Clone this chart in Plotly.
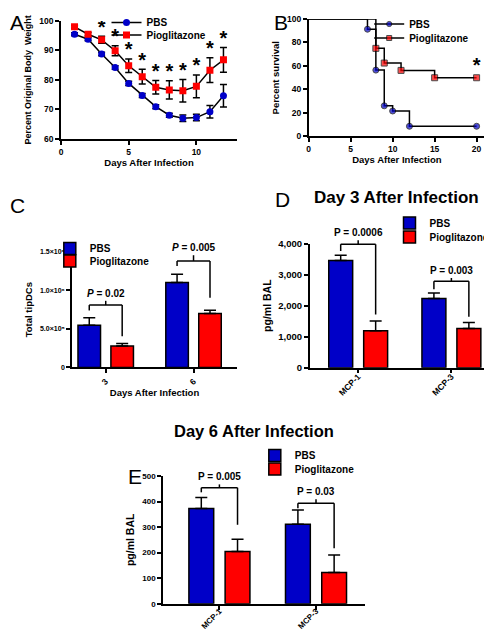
import plotly.graph_objects as go

W, H = 492, 632
FONT = "Liberation Sans, Arial, sans-serif"
BLUE = "#0000C8"
RED = "#FF0000"

# ---------------- Data ----------------
# Panel A: weight loss
a_days = [1, 2, 3, 4, 5, 6, 7, 8, 9, 10, 11, 12]
a_pbs = [95.5, 93.8, 88.8, 84.2, 78.8, 74.7, 70.9, 68.0, 67.0, 67.2, 69.2, 74.6]
a_pbs_err = [0.5, 0.5, 0.6, 0.6, 0.7, 0.7, 0.7, 0.7, 1.1, 1.1, 2.1, 3.8]
a_pio = [98.0, 95.5, 93.6, 89.9, 84.8, 81.1, 77.5, 76.6, 76.3, 77.8, 83.3, 86.8]
a_pio_err = [0.5, 0.6, 1.2, 1.7, 2.3, 2.5, 2.3, 3.1, 3.8, 3.9, 4.2, 4.2]
a_sig_days = [3, 4, 5, 6, 7, 8, 9, 10, 11, 12]

# Panel B: survival
b_pbs_t = [0, 7, 8, 9, 10, 12, 20]
b_pbs_s = [100, 91.3, 56.5, 26.1, 21.7, 8.7, 8.7]
b_pio_t = [0, 8, 9, 11, 15, 20]
b_pio_s = [100, 75, 62.5, 56.25, 50, 50]
b_sig_t = [20]

# Panel C: tipDCs
c_days = ["3", "6"]
c_pbs = [549000, 1102000]
c_pbs_err = [95000, 108000]
c_pio = [277000, 700000]
c_pio_err = [35000, 44000]
c_ptext = ["<i>P</i> = 0.02", "<i>P</i> = 0.005"]
c_br_left = [740000, 1318000]
c_br_line = [810000, 1383000]
c_br_right = [406000, 904000]
c_br_top = [865000, 1457000]
c_ticks = [0, 500000, 1000000, 1500000]
c_ticktext = ["0", "5.0×10⁵", "1.0×10⁶", "1.5×10⁶"]

# Panel D: day 3 cytokines
d_cats = ["MCP-1", "MCP-3"]
d_pbs = [3460, 2235]
d_pbs_err = [165, 175]
d_pio = [1190, 1264]
d_pio_err = [320, 194]
d_ptext = ["P = 0.0006", "P = 0.003"]
d_br_left = [3764, 2529]
d_br_line = [3977, 2786]
d_br_right = [1715, 1641]
d_br_top = [4106, 2896]

# Panel E: day 6 cytokines
e_cats = ["MCP-1", "MCP-3"]
e_pbs = [373, 311]
e_pbs_err = [43, 56]
e_pio = [204, 122]
e_pio_err = [48, 69]
e_ptext = ["P = 0.005", "P = 0.03"]
e_br_left = [436, 374]
e_br_line = [454, 393]
e_br_right = [309, 217]
e_br_top = [467, 409]

groups = ["PBS", "Pioglitazone"]

# ---------------- helpers ----------------
def xd(a, b):
    return [a / W, b / W]

def yd(top, bottom):
    return [1 - bottom / H, 1 - top / H]

def px(p):
    return p / W

def py(p):
    return 1 - p / H

BARGAP = 0.25
BARGROUPGAP = 0.315

# axis domains / ranges
DOM = {
    "x": xd(53, 229), "y": yd(12, 130),
    "x2": xd(300.7, 477), "y2": yd(10, 127.7),
    "x3": xd(64, 229), "y3": yd(243.3, 359),
    "x4": xd(301.7, 490), "y4": yd(235, 359.3),
    "x5": xd(155, 356.7), "y5": yd(467.7, 595.7),
}
YRANGE = {"y3": [0, 1500000], "y4": [0, 4000], "y5": [0, 500]}

def to_paper(ya, v):
    d0, d1 = DOM[ya]
    r0, r1 = YRANGE[ya]
    return d0 + (v - r0) / (r1 - r0) * (d1 - d0)

fig = go.Figure()

# ---- Panel A ----
fig.add_trace(go.Scatter(
    x=a_days, y=a_pbs, name=groups[0], mode="lines+markers",
    line=dict(color="black", width=1.5),
    marker=dict(symbol="circle", size=7, color=BLUE),
    error_y=dict(type="data", array=a_pbs_err, color="black", thickness=1.5, width=3.5),
    xaxis="x", yaxis="y", legend="legend"))
fig.add_trace(go.Scatter(
    x=a_days, y=a_pio, name=groups[1], mode="lines+markers",
    line=dict(color="black", width=1.5),
    marker=dict(symbol="square", size=7, color=RED),
    error_y=dict(type="data", array=a_pio_err, color="black", thickness=1.5, width=3.5),
    xaxis="x", yaxis="y", legend="legend2"))
sig_idx = [a_days.index(d) for d in a_sig_days]
fig.add_trace(go.Scatter(
    x=a_sig_days, y=[a_pio[i] + a_pio_err[i] + 2.6 for i in sig_idx],
    mode="text", text=["*"] * len(a_sig_days), textposition="middle center",
    textfont=dict(family=FONT, size=20, color="black", weight="bold"),
    showlegend=False, hoverinfo="skip", xaxis="x", yaxis="y"))

# ---- Panel B ----
def sizes(n):
    return [0] + [6] * (n - 1)

fig.add_trace(go.Scatter(
    x=b_pbs_t, y=b_pbs_s, name=groups[0], mode="lines+markers",
    line=dict(color="black", width=1.5, shape="hv"),
    marker=dict(symbol="circle", size=sizes(len(b_pbs_t)), color=BLUE),
    xaxis="x2", yaxis="y2", legend="legend3"))
fig.add_trace(go.Scatter(
    x=b_pio_t, y=b_pio_s, name=groups[1], mode="lines+markers",
    line=dict(color="black", width=1.5, shape="hv"),
    marker=dict(symbol="square", size=sizes(len(b_pio_t)), color=RED),
    xaxis="x2", yaxis="y2", legend="legend4"))
fig.add_trace(go.Scatter(
    x=b_sig_t, y=[b_pio_s[b_pio_t.index(t)] + 9 for t in b_sig_t],
    mode="text", text=["*"], textposition="middle center",
    textfont=dict(family=FONT, size=20, color="black", weight="bold"),
    showlegend=False, hoverinfo="skip", xaxis="x2", yaxis="y2"))

# ---- Bar panels ----
def bar_panel(cats, pbs, pbs_err, pio, pio_err, xa, ya, legs):
    for name, vals, errs, col, lg in [(groups[0], pbs, pbs_err, BLUE, legs[0]),
                                      (groups[1], pio, pio_err, RED, legs[1])]:
        fig.add_trace(go.Bar(
            x=cats, y=vals, name=name,
            marker=dict(color=col, line=dict(color="black", width=1.5)),
            error_y=dict(type="data", symmetric=False, array=errs,
                         arrayminus=[0] * len(errs), color="black", thickness=1.5, width=6),
            xaxis=xa, yaxis=ya, legend=lg))

bar_panel(c_days, c_pbs, c_pbs_err, c_pio, c_pio_err, "x3", "y3", ["legend5", "legend6"])
bar_panel(d_cats, d_pbs, d_pbs_err, d_pio, d_pio_err, "x4", "y4", ["legend7", "legend8"])
bar_panel(e_cats, e_pbs, e_pbs_err, e_pio, e_pio_err, "x5", "y5", ["legend9", "legend10"])

shapes = []
annotations = []
off = (1 - BARGAP) / 4

def brackets(n, left, line, right, top, texts, xa, ya, size=10):
    P = lambda v: to_paper(ya, v)
    for i in range(n):
        xl, xr, xc = i - off, i + off, i
        seg = [(xl, left[i], xl, line[i]), (xl, line[i], xr, line[i]),
               (xr, line[i], xr, right[i]), (xc, line[i], xc, top[i])]
        for x0, y0, x1, y1 in seg:
            shapes.append(dict(type="line", xref=xa, yref="paper",
                               x0=x0, y0=P(y0), x1=x1, y1=P(y1),
                               line=dict(color="black", width=1.5)))
        annotations.append(dict(x=xc, y=P(top[i]), xref=xa, yref="paper", text=texts[i],
                                showarrow=False, yanchor="bottom", xanchor="center",
                                font=dict(family=FONT, size=size, color="black", weight="bold")))

brackets(2, c_br_left, c_br_line, c_br_right, c_br_top, c_ptext, "x3", "y3")
brackets(2, d_br_left, d_br_line, d_br_right, d_br_top, d_ptext, "x4", "y4")
brackets(2, e_br_left, e_br_line, e_br_right, e_br_top, e_ptext, "x5", "y5")

# panel letters
for letter, x, y, anc in [("A", 0, 0, "top"), ("B", 264, 0, "top"), ("C", 0, 197, "middle"),
                          ("D", 265, 191, "middle"), ("E", 118, 468, "middle")]:
    annotations.append(dict(x=px(x), y=py(y), xref="paper", yref="paper", text=letter,
                            showarrow=False, xanchor="left", yanchor=anc,
                            font=dict(family=FONT, size=21, color="black")))

# titles
annotations.append(dict(x=px(388), y=py(189), xref="paper", yref="paper",
                        text="Day 3 After Infection", showarrow=False,
                        xanchor="center", yanchor="middle",
                        font=dict(family=FONT, size=17, color="black", weight="bold")))
annotations.append(dict(x=px(246), y=py(423), xref="paper", yref="paper",
                        text="Day 6 After Infection", showarrow=False,
                        xanchor="center", yanchor="middle",
                        font=dict(family=FONT, size=16.5, color="black", weight="bold")))

# ---------------- axes ----------------
def tf(s):
    return dict(family=FONT, size=s, color="black", weight="bold")

TITLEF = tf(9.5)

def ax(name, anchor, **kw):
    d = dict(domain=DOM[name], anchor=anchor, showline=True, linecolor="black", linewidth=1.5,
             ticks="outside", ticklen=4, tickwidth=1.5, tickcolor="black",
             showgrid=False, zeroline=False, automargin=False, tickfont=tf(8.5))
    d.update(kw)
    return d

fig.update_layout(
    width=W, height=H, margin=dict(l=0, r=0, t=0, b=0),
    paper_bgcolor="white", plot_bgcolor="white",
    barmode="group", bargap=BARGAP, bargroupgap=BARGROUPGAP,
    font=dict(family=FONT, color="black"),
    xaxis=ax("x", "y", range=[0, 13], tickvals=[0, 5, 10],
             title=dict(text="Days After Infection", font=TITLEF, standoff=2)),
    yaxis=ax("y", "x", range=[60, 100], dtick=10,
             title=dict(text="Percent Original Body  Weight", font=tf(9), standoff=6)),
    xaxis2=ax("x2", "y2", range=[0, 21], tickvals=[0, 5, 10, 15, 20],
              title=dict(text="Days After Infection", font=TITLEF, standoff=2)),
    yaxis2=ax("y2", "x2", range=[0, 100], dtick=20,
              title=dict(text="Percent survival", font=TITLEF, standoff=6)),
    xaxis3=ax("x3", "y3", type="category", range=[-0.384, 1.495], tickangle=-45,
              title=dict(text="Days After Infection", font=TITLEF, standoff=1)),
    yaxis3=ax("y3", "x3", range=YRANGE["y3"], tickvals=c_ticks, ticktext=c_ticktext,
              tickfont=tf(7), title=dict(text="Total tipDCs", font=TITLEF, standoff=6)),
    xaxis4=ax("x4", "y4", type="category", range=[-0.52, 1.5], tickangle=-45,
              tickfont=tf(8.5), ticklabelstandoff=-5),
    yaxis4=ax("y4", "x4", range=YRANGE["y4"], dtick=1000, tickformat=",",
              tickfont=tf(9.5),
              title=dict(text="pg/ml BAL", font=tf(10.5), standoff=5)),
    xaxis5=ax("x5", "y5", type="category", range=[-0.584, 1.504], tickangle=-45,
              tickfont=tf(8), ticklabelstandoff=-6),
    yaxis5=ax("y5", "x5", range=YRANGE["y5"], dtick=100, tickfont=tf(8),
              title=dict(text="pg/ml BAL", font=tf(10.5), standoff=6)),
    shapes=shapes, annotations=annotations,
)

LEGF = tf(10)
def leg(x, y):
    return dict(x=px(x - 46.5), y=py(y), xanchor="left", yanchor="middle",
                bgcolor="rgba(0,0,0,0)", borderwidth=0, font=LEGF)

fig.update_layout(
    legend=leg(145, 14), legend2=leg(145, 27),
    legend3=leg(407.7, 16), legend4=leg(407.7, 30),
    legend5=leg(88.3, 240.5), legend6=leg(88.3, 253),
    legend7=leg(428, 215), legend8=leg(428, 229),
    legend9=leg(293.3, 447.5), legend10=leg(293.3, 461),
)

fig.write_html("out.html")
